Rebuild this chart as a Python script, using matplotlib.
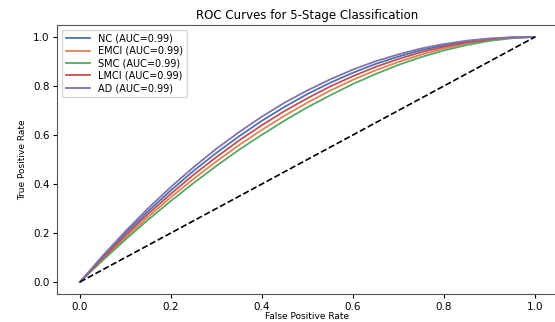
import numpy as np
import matplotlib
matplotlib.use("Agg")
import matplotlib.pyplot as plt

# values
fpr = [0.0, 0.05, 0.1, 0.15, 0.2, 0.25, 0.3, 0.35, 0.4, 0.45, 0.5,
       0.55, 0.6, 0.65, 0.7, 0.75, 0.8, 0.85, 0.9, 0.95, 1.0]

tpr_nc = [0.0, 0.102, 0.199, 0.289, 0.374, 0.454, 0.527, 0.595, 0.658, 0.715, 0.767,
          0.813, 0.854, 0.890, 0.920, 0.946, 0.966, 0.981, 0.992, 0.998, 1.0]
tpr_emci = [0.0, 0.093, 0.181, 0.266, 0.346, 0.421, 0.492, 0.559, 0.621, 0.679, 0.732,
            0.781, 0.825, 0.864, 0.898, 0.928, 0.953, 0.973, 0.987, 0.997, 1.0]
tpr_smc = [0.0, 0.088, 0.173, 0.254, 0.331, 0.404, 0.474, 0.540, 0.601, 0.659, 0.713,
           0.762, 0.808, 0.849, 0.886, 0.918, 0.945, 0.967, 0.984, 0.995, 1.0]
tpr_lmci = [0.0, 0.098, 0.190, 0.278, 0.360, 0.438, 0.510, 0.578, 0.640, 0.698, 0.750,
            0.798, 0.840, 0.878, 0.910, 0.938, 0.960, 0.978, 0.990, 0.998, 1.0]
tpr_ad = [0.0, 0.107, 0.207, 0.301, 0.388, 0.469, 0.544, 0.612, 0.675, 0.732, 0.782,
          0.827, 0.867, 0.901, 0.929, 0.953, 0.971, 0.985, 0.994, 0.999, 1.0]

classes = ["NC", "EMCI", "SMC", "LMCI", "AD"]
aucs = [0.99, 0.99, 0.99, 0.99, 0.99]
curves = [tpr_nc, tpr_emci, tpr_smc, tpr_lmci, tpr_ad]
colors = ["#4C72B0", "#DD8452", "#55A868", "#C44E52", "#8172B3"]

fig = plt.figure(figsize=(5.55, 3.22), dpi=100)
ax = fig.add_axes([0.103, 0.0862, 0.9018, 0.837])

for name, auc, tpr, c in zip(classes, aucs, curves, colors):
    ax.plot(fpr, tpr, color=c, lw=1.3, label=f"{name} (AUC={auc:.2f})")

ax.plot([0, 1], [0, 1], "k--", lw=1.2)

ax.set_xlabel("False Positive Rate", fontsize=6.5, labelpad=0)
ax.set_ylabel("True Positive Rate", fontsize=6.5, labelpad=4)
ax.set_title("ROC Curves for 5-Stage Classification", fontsize=8.5, pad=4)
ax.tick_params(labelsize=7.5, length=3, pad=2.5)
for s in ax.spines.values():
    s.set_color("#555555")
ax.legend(loc="upper left", fontsize=7, handlelength=2.5, labelspacing=0.25,
          borderpad=0.4)

fig.savefig("out.png", dpi=100)
